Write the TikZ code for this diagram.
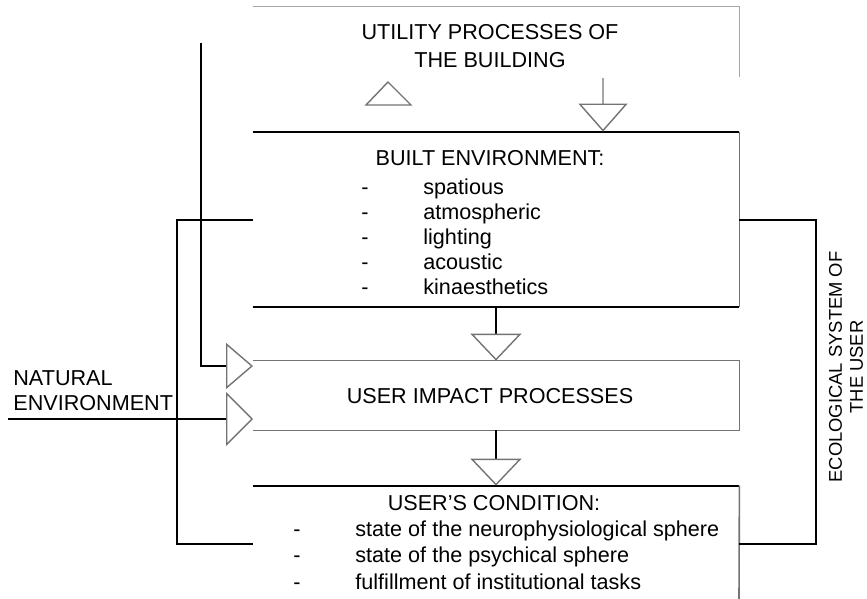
\documentclass[tikz,border=0pt]{standalone}
\usepackage{fontspec}
\setmainfont{Liberation Sans}
\usetikzlibrary{arrows.meta}
\newcommand\dashitem[1]{\makebox[31pt][l]{-}#1}
\tikzset{
  frame/.style={draw=black, line width=1pt},
  softframe/.style={draw=black!55, line width=0.8pt},
  paleframe/.style={draw=black!35, line width=0.8pt},
  area/.style={draw=none, rectangle, inner sep=0pt},
  tri/.style={draw=black!55, line width=0.7pt, line join=miter},
  tipV/.style={-{Triangle[open, length=13.5pt, width=25.5pt, color=black!55, line width=0.7pt]}},
  tipU/.style={-{Triangle[open, length=14pt, width=24.5pt, color=black!55, line width=0.7pt]}},
  tipA/.style={-{Triangle[open, length=13.5pt, width=23pt, color=black!55, line width=0.7pt]}},
  tipB/.style={-{Triangle[open, length=13.5pt, width=27pt, color=black!55, line width=0.7pt]}},
  lbl/.style={inner sep=0pt, font=\fontsize{10.8}{12.5}\selectfont},
  item/.style={lbl, anchor=mid west}
}
\begin{document}
\begin{tikzpicture}[x=0.5pt, y=-0.5pt]
  \useasboundingbox (0,0) rectangle (867,599);

  \node[area, minimum width=243pt, minimum height=35pt] (util) at (496,42) {};
  \node[area, minimum width=243pt, minimum height=87.5pt] (built) at (496,219.5) {};
  \node[area, minimum width=243pt, minimum height=34.5pt] (impact) at (496,395.5) {};
  \node[area, minimum width=243pt, minimum height=58pt] (cond) at (496,544) {};
  \coordinate (condEnd) at (739,599);
  \coordinate (utilTap) at (603,78);
  \coordinate (feedTop) at (201,43);
  \coordinate (feedIn) at (253,366);
  \coordinate (natStart) at (8,419);
  \coordinate (natIn) at (253,419);
  \coordinate (loopSW) at (177,544);
  \coordinate (loopSE) at (816,544);

  \draw[paleframe] (util.north west) -- (util.north east) -- (util.south east);
  \draw[frame] (built.north west) -- (built.north east);
  \draw[frame] (built.south west) -- (built.south east);
  \draw[softframe] (built.north east) -- (built.south east);
  \draw[softframe] (impact.north west) -- (impact.north east) -- (impact.south east) -- (impact.south west);
  \draw[frame] (cond.north west) -- (cond.north east);
  \draw[softframe] (cond.north east) -- (condEnd);

  \draw[tri] (366,105) -- (411,105) -- (388,82) -- cycle;
  \draw[paleframe, tipU] (utilTap) -- (built.north -| utilTap);
  \draw[frame, tipV] (built.south) -- (impact.north);
  \draw[frame, tipV] (impact.south) -- (cond.north);

  \draw[frame] (built.west) -| (loopSW) -- (cond.west);
  \draw[frame] (built.east) -| (loopSE) -- (cond.east);
  \draw[frame, tipA] (feedTop) |- (feedIn);
  \draw[frame, tipB] (natStart) -- (natIn);

  \node[lbl] (utilA) at (490,32) {UTILITY PROCESSES OF};
  \node[lbl] (utilB) at (490,60) {THE BUILDING};
  \node[lbl] (builtT) at (490,158) {BUILT ENVIRONMENT:};
  \foreach \txt [count=\i] in {spatious, atmospheric, lighting, acoustic, kinaesthetics}
    \node[item] (bitem\i) at (361,{189+25*(\i-1)}) {\dashitem{\txt}};
  \node[lbl] (impactT) at (490,396) {USER IMPACT PROCESSES};
  \node[lbl] (condT) at (494,503) {USER'S CONDITION:};
  \foreach \txt [count=\i] in {state of the neurophysiological sphere, state of the psychical sphere, fulfillment of institutional tasks}
    \node[item] (citem\i) at (293,{531+26.5*(\i-1)}) {\dashitem{\txt}};
  \node[lbl, align=left, anchor=west] (natural) at (13,391) {NATURAL\\ENVIRONMENT};
  \node[lbl, rotate=90, align=center, font=\fontsize{9.2}{10.5}\selectfont] (eco) at (846,367) {ECOLOGICAL SYSTEM OF\\THE USER};
\end{tikzpicture}
\end{document}
